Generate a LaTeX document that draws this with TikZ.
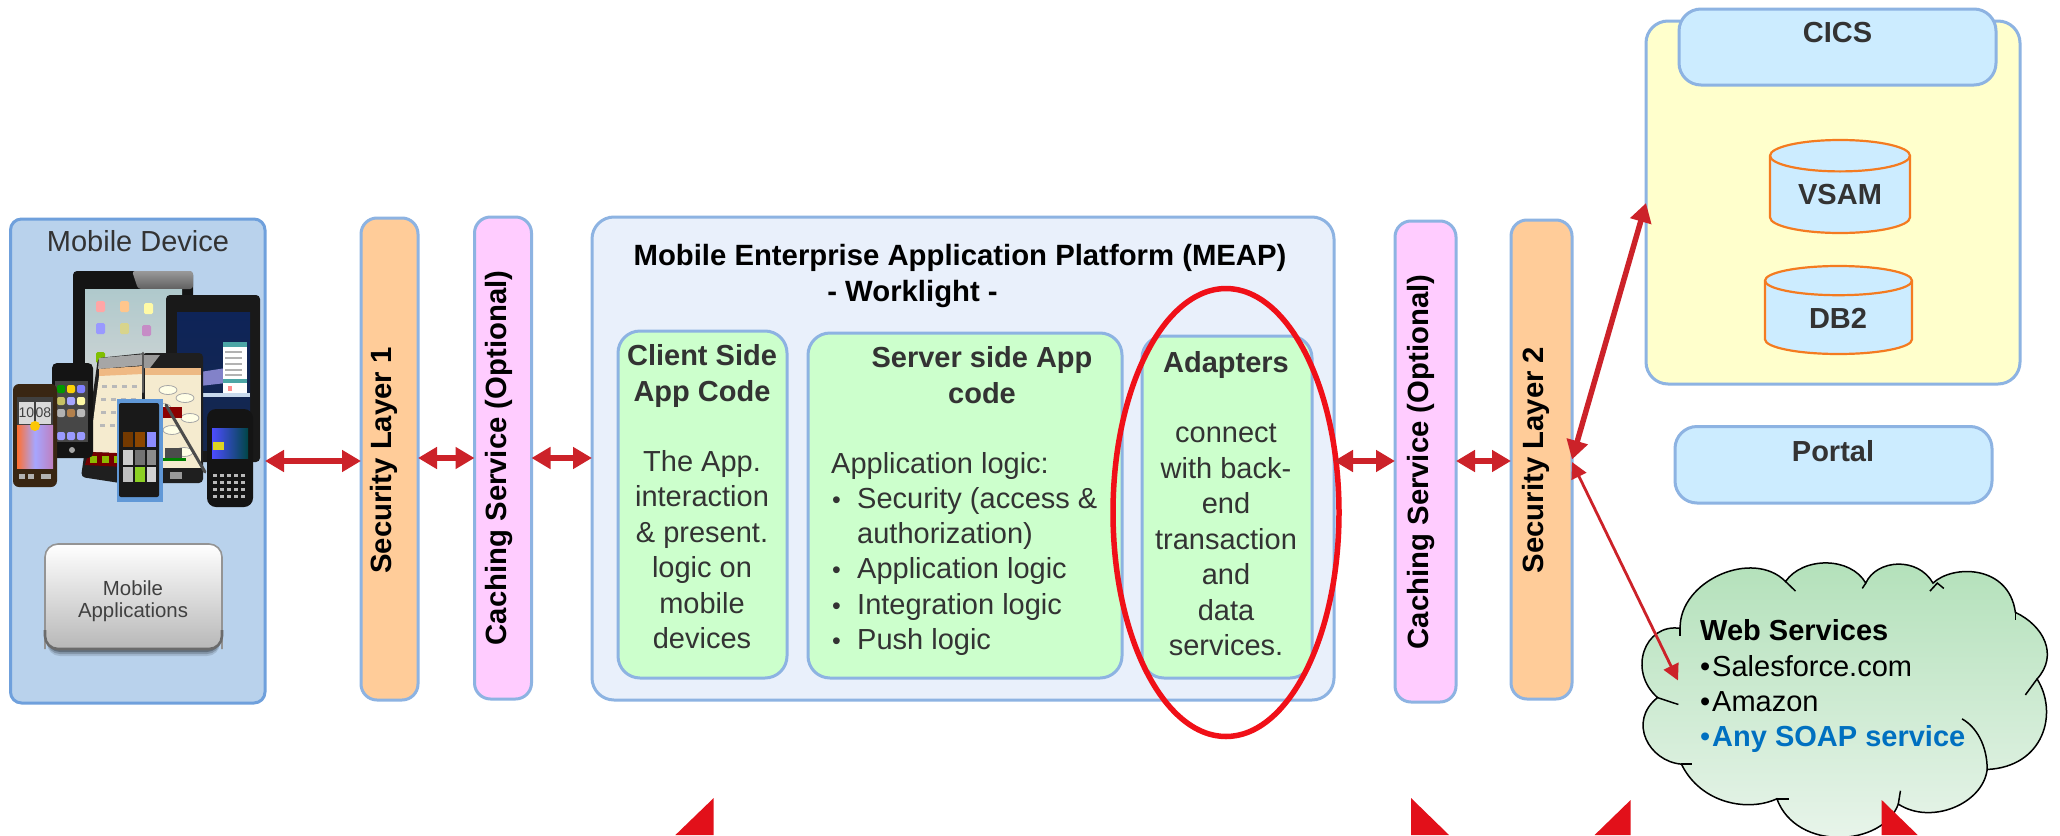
\documentclass[tikz,border=0pt]{standalone}
\usepackage{fontspec}
\setmainfont{Liberation Sans}
\usetikzlibrary{arrows.meta,calc}
\definecolor{mobfill}{HTML}{B9D2EC}
\definecolor{mobline}{HTML}{6FA0DC}
\definecolor{barline}{HTML}{8DB3E2}
\definecolor{secfill}{HTML}{FFCC99}
\definecolor{cachefill}{HTML}{FFCCFF}
\definecolor{meapfill}{HTML}{E9F0FB}
\definecolor{greenfill}{HTML}{CCFFCC}
\definecolor{bluefill}{HTML}{CCECFF}
\definecolor{yellowfill}{HTML}{FFFFCC}
\definecolor{cyline}{HTML}{F47B20}
\definecolor{arrowred}{HTML}{CC2229}
\definecolor{ringred}{HTML}{F01018}
\definecolor{trired}{HTML}{E2101A}
\definecolor{inktext}{HTML}{333333}
\definecolor{soap}{HTML}{0070C0}
\definecolor{cloudA}{HTML}{B1E0B8}
\definecolor{cloudB}{HTML}{EAF5EC}
\definecolor{tabA}{HTML}{0E2458}
\definecolor{tabB}{HTML}{4A82C4}
\definecolor{tabC}{HTML}{16284E}
\definecolor{creamS}{HTML}{F5EBCF}
\definecolor{padA}{HTML}{AFC9CC}
\definecolor{padB}{HTML}{D4D6D6}
\newcommand{\bx}[6]{%
  \pgfmathsetmacro{\bw}{#4-#2}\pgfmathsetmacro{\bh}{#5-#3}%
  \pgfmathsetmacro{\bcx}{(#2+#4)/2}\pgfmathsetmacro{\bcy}{(#3+#5)/2}%
  \node[#6, minimum width=\bw pt, minimum height=\bh pt] (#1) at (\bcx,\bcy) {};}
\newcommand{\cyl}[5]{% x1 x2 ytop ybot ry
  \pgfmathsetmacro{\xm}{(#1+#2)/2}\pgfmathsetmacro{\kx}{.5523*(#2-#1)/2}\pgfmathsetmacro{\ky}{.5523*#5}%
  \pgfmathsetmacro{\ya}{#3+#5}\pgfmathsetmacro{\yb}{#4-#5}\pgfmathsetmacro{\yc}{#3+2*#5}%
  \draw[cylstyle] (#1,\ya) .. controls (#1,\ya-\ky) and (\xm-\kx,#3) .. (\xm,#3)
    .. controls (\xm+\kx,#3) and (#2,\ya-\ky) .. (#2,\ya) -- (#2,\yb)
    .. controls (#2,\yb+\ky) and (\xm+\kx,#4) .. (\xm,#4)
    .. controls (\xm-\kx,#4) and (#1,\yb+\ky) .. (#1,\yb) -- cycle;
  \draw[cylstyle,fill=none] (#1,\ya) .. controls (#1,\ya+\ky) and (\xm-\kx,\yc) .. (\xm,\yc)
    .. controls (\xm+\kx,\yc) and (#2,\ya+\ky) .. (#2,\ya);}
\tikzset{
  x=1pt,y=-1pt,
  panel/.style={draw=barline,line width=3pt,inner sep=0pt,outer sep=0pt,rounded corners=#1},
  panel/.default=16pt,
  bodytext/.style={font=\fontsize{29}{35.5}\selectfont,text=inktext,inner sep=0pt,align=center},
  headtext/.style={bodytext,font=\fontsize{29}{35.5}\selectfont\bfseries},
  bartext/.style={font=\fontsize{29.3}{35}\selectfont\bfseries,text=black,rotate=90,anchor=base,inner sep=0pt},
  listtext/.style={bodytext,anchor=base west},
  cloudtext/.style={font=\fontsize{29}{35}\selectfont,text=black,anchor=base west,inner sep=0pt},
  hosttext/.style={bodytext,font=\fontsize{29}{34}\selectfont\bfseries},
  titletext/.style={font=\fontsize{29.3}{35}\selectfont\bfseries,text=black,inner sep=0pt},
  cylstyle/.style={draw=cyline,line width=2.2pt,fill=bluefill},
  thickarrow/.style={draw=arrowred,line width=5.5pt,arrows={Triangle[length=19pt,width=21pt]-Triangle[length=19pt,width=21pt]}},
  thinarrow/.style={draw=arrowred,line width=2.8pt,arrows={Triangle[length=16pt,width=16pt]-Triangle[length=16pt,width=16pt]}},
  ring/.style={draw=ringred,line width=5.5pt},
  tri/.style={fill=trired},
  cloudline/.style={draw=black,line width=1.5pt},
  glass/.style={rounded corners=2pt}
}
\begin{document}
\begin{tikzpicture}
\useasboundingbox (0,0) rectangle (2060,835);
\fill[white] (0,0) rectangle (2060,835);
% Mobile device panel
\bx{mob}{10.5}{219}{265}{703}{panel=11pt,draw=mobline,fill=mobfill}
\node[font=\fontsize{29}{34}\selectfont,text=inktext,inner sep=0pt] (mobt) at (138,241) {Mobile Device};
% --- device montage ---
% iPad
\fill[black!92,rounded corners=4pt] (73,271) rectangle (193,396);
\shade[top color=black!40,bottom color=black!62,rounded corners=3pt] (132,271) -- (193,271) -- (193,289) -- (138,289) -- cycle;
\shade[top color=padA,bottom color=padB] (85,289) rectangle (182,396);
\foreach \ix/\iy/\ic in {96/301/red!35!white,120/301/orange!45,144/303/yellow!35,96/323/blue!40,120/323/olive!35,142/325/violet!45,96/352/green!50!orange}
  \fill[\ic,rounded corners=1.5pt] (\ix,\iy) rectangle ++(9,11);
% right tablet
\fill[black!90,rounded corners=4pt] (166,295) rectangle (260,462);
\shade[top color=tabA,middle color=tabB,bottom color=tabC] (177,312) rectangle (250,450);
\fill[white!70!tabB] (177,393) rectangle (250,397);
\fill[gray!60!blue!70] (200,372) -- (226,368) -- (226,383) -- (200,386) -- cycle;
\fill[white] (223,342) rectangle (247,393);
\fill[teal!70] (223,342) rectangle (247,347);
\fill[teal!70] (223,379) rectangle (247,383);
\foreach \yy in {351,357,363,369,374}{\fill[gray!60] (225,\yy) rectangle (242,\yy+1.5);}
\fill[red!45] (228,386) rectangle (232,391);
% Note left
\fill[black!88,rounded corners=4pt] (98,358) -- (146,353) -- (146,487) -- (81,477) -- cycle;
\fill[black!35] (99,358) -- (146,354) -- (146,365) -- (98,369) -- cycle;
\fill[creamS] (100,369) -- (143,367) -- (143,454) -- (89,452) -- cycle;
\fill[orange!55!brown!55] (99,369) -- (143,366) -- (143,374) -- (99,376) -- cycle;
\fill[red!45!black] (89,452) -- (143,454) -- (143,468) -- (85,465) -- cycle;
\foreach \ix in {90,102,114}{\fill[green!45!orange] (\ix,456) rectangle ++(7,7);}
\foreach \yy in {385,398,411,424}{\foreach \ix in {102,112,122,132}{\fill[gray!55] (\ix-\yy*0.04+15,\yy) rectangle ++(5,3);}}
% iPhone
\fill[black!92,rounded corners=5pt] (52,363) rectangle (93,458);
\fill[black!72] (55,381) rectangle (88,442);
\foreach \ix/\ica/\icb/\icc in {57/green!60!black/yellow!50!gray/gray!60,67/yellow!70!orange/blue!35/orange!40!gray,77/blue!50/yellow!35/gray!55}{
 \fill[\ica,glass] (\ix,385) rectangle ++(8,8);
 \fill[\icb,glass] (\ix,397) rectangle ++(8,8);
 \fill[\icc,glass] (\ix,409) rectangle ++(8,8);
 \fill[blue!40,glass] (\ix,432) rectangle ++(8,8);}
\fill[gray!70] (72,450) circle[radius=3pt];
% HTC
\fill[black!70!brown,rounded corners=6pt] (13,384) rectangle (57,487);
\shade[left color=orange!60!red!80,right color=violet!50,middle color=blue!35!white] (17,425) rectangle (53,468);
\fill[black!75] (17,397) rectangle (53,425);
\fill[white!85!black] (19,402) rectangle (34,424);
\fill[white!85!black] (36,402) rectangle (51,424);
\node[inner sep=0pt,font=\fontsize{14}{14}\selectfont,text=black!75] (htca) at (26.5,413) {10};
\node[inner sep=0pt,font=\fontsize{14}{14}\selectfont,text=black!75] (htcb) at (43.5,413) {08};
\fill[yellow!60!orange] (35,426) circle[radius=5pt];
\fill[gray!60] (19,474) rectangle ++(6,5);
\fill[gray!60] (28,474) rectangle ++(6,5);
\fill[gray!60] (41,474) rectangle ++(10,5);
% Note right
\fill[black!88,rounded corners=4pt] (142,353) rectangle (203,483);
\fill[black!40] (144,355) -- (160,355) -- (150,368) -- (144,368) -- cycle;
\fill[creamS] (145,368) rectangle (201,468);
\fill[orange!50!brown!55] (145,368) rectangle (201,375);
\foreach \ex/\ey in {168/390,185/398,162/408,190/418,172/430,184/452}
  \draw[gray!70,line width=.8pt,fill=white!90!yellow] (\ex,\ey) ellipse[x radius=9pt,y radius=4.5pt];
\fill[red!55!black] (160,407) rectangle (182,418);
\fill[black!70] (165,448) rectangle (182,458);
\fill[green!50!black] (160,458) rectangle (186,461);
\fill[gray!80] (170,472) rectangle (182,479);
% stylus
\draw[gray!70!black,line width=2.6pt,line cap=round] (143,353) -- (143,392);
\draw[black!70,line width=3pt,line cap=round] (166,405) -- (205,472);
% Nokia
\fill[cyan!55!blue!65!white] (116.5,399) rectangle (162.5,502);
\fill[black!90,rounded corners=2pt] (119,403) rectangle (159,497);
\foreach \iy/\ica/\icb/\icc in {432/orange!45!black/orange!55!black/blue!45!white,450/white!80!black/black!55/black!45,467/gray!50/yellow!55!green/gray!35}{
  \fill[\ica] (123,\iy) rectangle ++(10,15);
  \fill[\icb] (135,\iy) rectangle ++(10,15);
  \fill[\icc] (147,\iy) rectangle ++(9,15);}
% BlackBerry
\fill[black!92,rounded corners=9pt] (207,409) rectangle (253,507);
\shade[left color=blue!70!white,right color=teal!55!black] (212,428) rectangle (248,458);
\fill[yellow!85!black] (213,442) rectangle (224,450);
\foreach \yy in {474,481,488,495}{\foreach \ix in {213,220,227,234,241}{\fill[gray!55] (\ix,\yy) rectangle ++(4,3);}}
% Mobile applications button
\foreach \sh/\op in {7/.12,5/.18,3/.25}
  \fill[black,opacity=\op,rounded corners=13pt] (47,552) rectangle (220,649+\sh);
\shade[top color=white,bottom color=black!28,rounded corners=13pt] (45,544) rectangle (222,649);
\draw[black!42,line width=1.6pt,rounded corners=13pt] (45,649) -- (45,544) -- (222,544) -- (222,649);
\draw[black!58,line width=2.6pt,rounded corners=13pt] (45,630) -- (45,649) -- (222,649) -- (222,630);
\node[font=\fontsize{20.4}{22}\selectfont,text=black!75,inner sep=0pt,align=center] (apps) at (133,601) {Mobile\\Applications};
% Bars
\bx{sec1}{361}{218}{418}{700}{panel,fill=secfill}
\node[bartext] (sec1t) at (391,460.5) {Security Layer 1};
\bx{cache1}{474.5}{217}{531.5}{699}{panel,fill=cachefill}
\node[bartext] (cache1t) at (506,458) {Caching Service (Optional)};
% MEAP
\bx{meap}{592}{217}{1334}{700}{panel=22pt,fill=meapfill}
\node[titletext] (meapa) at (960,258) {Mobile Enterprise Application Platform (MEAP)};
\node[titletext] (meapb) at (912.5,294) {- Worklight -};
\bx{client}{618}{331}{787}{678}{panel=22pt,fill=greenfill}
\bx{server}{808}{333}{1122}{678}{panel=22pt,fill=greenfill}
\bx{adapt}{1142}{336}{1312}{678}{panel=22pt,fill=greenfill}
\node[headtext] (clienth) at (702,376) {Client Side\\App Code};
\node[bodytext] (clientb) at (702,549.5) {The App.\\interaction\\\& present.\\logic on\\mobile\\devices};
\node[headtext] (serverh) at (982,375) {Server side App\\code};
\node[listtext] (s0) at (831,473) {Application logic:};
\node[listtext,font=\fontsize{25}{30}\selectfont] (s1) at (832,508) {•};
\node[listtext] (s1t) at (857,508) {Security (access \&};
\node[listtext] (s2t) at (857,543) {authorization)};
\node[listtext,font=\fontsize{25}{30}\selectfont] (s3) at (832,578) {•};
\node[listtext] (s3t) at (857,578) {Application logic};
\node[listtext,font=\fontsize{25}{30}\selectfont] (s4) at (832,614) {•};
\node[listtext] (s4t) at (857,614) {Integration logic};
\node[listtext,font=\fontsize{25}{30}\selectfont] (s5) at (832,649) {•};
\node[listtext] (s5t) at (857,649) {Push logic};
\node[headtext] (adapth) at (1226,365) {Adapters};
\node[bodytext] (adaptb) at (1226,540) {connect\\with back-\\end\\transaction\\and\\data\\services.};
% right bars
\bx{cache2}{1395}{221}{1456}{702}{panel,fill=cachefill}
\node[bartext] (cache2t) at (1428,462) {Caching Service (Optional)};
\bx{sec2}{1511}{220}{1572}{699}{panel,fill=secfill}
\node[bartext] (sec2t) at (1543,460) {Security Layer 2};
% yellow host
\bx{host}{1646}{21}{2020}{384}{panel=22pt,fill=yellowfill}
\bx{cics}{1679}{9}{1996}{85}{panel=22pt,fill=bluefill}
\node[hosttext] (cicst) at (1837.5,33) {CICS};
\cyl{1770}{1910}{140}{233}{15.7}
\node[hosttext] (vsam) at (1840,195) {VSAM};
\cyl{1765}{1912}{266}{354}{14.6}
\node[hosttext] (db2) at (1838,318) {DB2};
\bx{portal}{1675}{426.5}{1992}{503}{panel=22pt,fill=bluefill}
\node[hosttext] (portalt) at (1833,451) {Portal};
% cloud
\begin{scope}
\clip (1600,540) rectangle (2060,835);
\begin{scope}[shift={(1380,0)},xscale=0.4337,yscale=0.5325]
\shade[cloudline,top color=cloudA,bottom color=cloudB] (692,1180)
  .. controls (690,1090) and (860,1030) .. (935,1092)
  .. controls (975,1045) and (1085,1045) .. (1120,1095)
  .. controls (1145,1050) and (1240,1045) .. (1275,1095)
  .. controls (1320,1060) and (1450,1060) .. (1465,1150)
  .. controls (1530,1175) and (1565,1230) .. (1515,1275)
  .. controls (1565,1340) and (1530,1440) .. (1400,1445)
  .. controls (1390,1510) and (1270,1550) .. (1195,1510)
  .. controls (1160,1590) and (960,1600) .. (915,1500)
  .. controls (850,1525) and (740,1510) .. (695,1435)
  .. controls (620,1430) and (570,1355) .. (640,1310)
  .. controls (570,1260) and (610,1170) .. (692,1180) -- cycle;
\draw[cloudline] (935,1092) -- (958,1110);
\draw[cloudline] (1120,1095) -- (1112,1105);
\draw[cloudline] (1268,1110) -- (1285,1095) -- (1300,1105);
\draw[cloudline] (1465,1150) -- (1465,1165);
\draw[cloudline] (1515,1275) -- (1488,1305);
\draw[cloudline] (1342,1350) .. controls (1375,1365) and (1400,1400) .. (1400,1445);
\draw[cloudline] (1195,1510) -- (1200,1485);
\draw[cloudline] (915,1500) -- (942,1500);
\draw[cloudline] (695,1435) -- (720,1435);
\draw[cloudline] (640,1310) -- (688,1323);
\draw[cloudline] (692,1180) -- (692,1195);
\end{scope}
\end{scope}
\node[cloudtext,font=\fontsize{29}{35}\selectfont\bfseries] (ws0) at (1700,640) {Web Services};
\node[cloudtext] (ws1) at (1700,676) {•};
\node[cloudtext] (ws1t) at (1712,676) {Salesforce.com};
\node[cloudtext] (ws2) at (1700,711) {•};
\node[cloudtext] (ws2t) at (1712,711) {Amazon};
\node[cloudtext,text=soap] (ws3) at (1700,746) {•};
\node[cloudtext,text=soap,font=\fontsize{29}{35}\selectfont\bfseries] (ws3t) at (1712,746) {Any SOAP service};
% ring
\coordinate (ringc) at (1226,512.5);
\draw[ring] (ringc) ellipse[x radius=113pt,y radius=224pt];
% connectors
\coordinate (r1) at (0,461);
\coordinate (r2) at (0,458);
\coordinate (r3) at (0,461);
\coordinate (up) at (0,203);
\coordinate (s2up) at (0,459.5);
\coordinate (s2dn) at (0,462);
\coordinate (cloudhit) at (1678,680.5);
\draw[thickarrow] (mob.east |- r1) -- (sec1.west |- r1);
\draw[thickarrow] (sec1.east |- r2) -- (cache1.west |- r2);
\draw[thickarrow] (cache1.east |- r2) -- (meap.west |- r2);
\draw[thickarrow] (meap.east |- r3) -- (cache2.west |- r3);
\draw[thickarrow] (cache2.east |- r3) -- (sec2.west |- r3);
\draw[thickarrow] (sec2.east |- s2up) -- (host.west |- up);
\draw[thinarrow] (sec2.east |- s2dn) -- (cloudhit);
% bottom wedges
\fill[tri] (713.7,798) -- (713.7,835) -- (675.4,835) -- cycle;
\fill[tri] (1411,798) -- (1449,835) -- (1411,835) -- cycle;
\fill[tri] (1630.6,800) -- (1630.6,835) -- (1594.6,835) -- cycle;
\fill[tri] (1881.7,800) -- (1917.7,835) -- (1881.7,835) -- cycle;
\end{tikzpicture}
\end{document}
